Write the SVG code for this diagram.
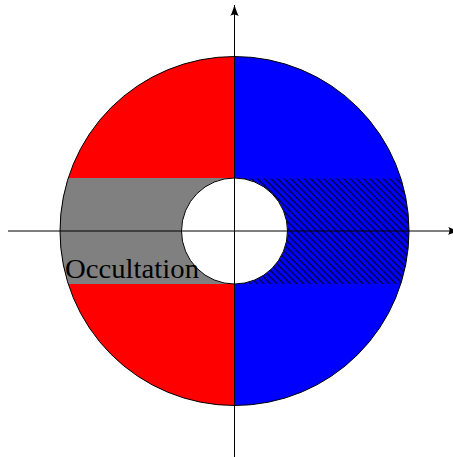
<svg xmlns="http://www.w3.org/2000/svg" width="453" height="457" viewBox="0 0 453 457">
  <style>
    .edge { stroke: #000; stroke-width: 1; fill: none; }
    .outline { stroke: #000; stroke-width: 1; }
    .label { font-family: "Liberation Serif", "DejaVu Serif", serif; font-size: 28px; fill: #000; }
  </style>
  <defs>
    <clipPath id="disk">
      <circle cx="234.5" cy="231" r="174.5"/>
    </clipPath>
    <pattern id="nwlines" patternUnits="userSpaceOnUse" x="0" y="0" width="6.6" height="6.6">
      <path d="M0,0 L6.6,6.6 M-1,5.6 L1,7.6 M5.6,-1 L7.6,1" stroke="#000" stroke-width="1.1"/>
    </pattern>
    <marker id="arrow" markerUnits="userSpaceOnUse" markerWidth="12" markerHeight="10" refX="11" refY="4.3" orient="auto">
      <path d="M0,0 Q3,3 0,8.6 Q1,7.5 11,4.3 Q1,1.1 0,0 Z" fill="#000"/>
    </marker>
  </defs>

  <g id="disk-halves">
    <path d="M234.5,56.5 A174.5,174.5 0 0 0 234.5,405.5 Z" fill="#ff0000"/>
    <path d="M234.5,56.5 A174.5,174.5 0 0 1 234.5,405.5 Z" fill="#0000ff"/>
  </g>

  <g id="occultation-band" clip-path="url(#disk)">
    <rect x="55" y="178" width="179.5" height="106" fill="#808080"/>
  </g>

  <g id="hatched-band" clip-path="url(#disk)">
    <rect x="234.5" y="178.5" width="180" height="105.5" fill="url(#nwlines)"/>
  </g>

  <g id="inner-hole">
    <circle cx="234.5" cy="231" r="53" fill="#fff" class="outline"/>
  </g>

  <g id="outer-circle">
    <circle cx="234.5" cy="231" r="174.5" fill="none" class="outline"/>
  </g>

  <g id="connectors">
    <line class="edge" x1="8" y1="231" x2="459" y2="231" marker-end="url(#arrow)"/>
    <line class="edge" x1="234.5" y1="457" x2="234.5" y2="5" marker-end="url(#arrow)"/>
  </g>

  <g id="label">
    <text class="label" x="65" y="277.5" textLength="134" lengthAdjust="spacingAndGlyphs">Occultation</text>
  </g>
</svg>
